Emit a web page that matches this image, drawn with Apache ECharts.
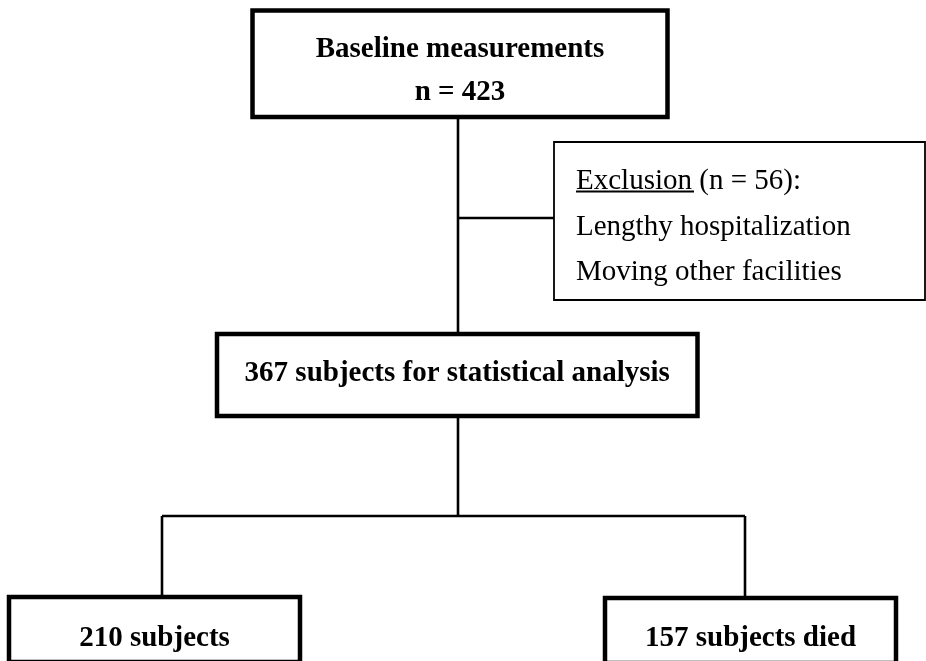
<!DOCTYPE html>
<html>
<head>
<meta charset="utf-8">
<script src="https://cdn.jsdelivr.net/npm/echarts@6/dist/echarts.min.js"></script>
<style>
html,body{margin:0;padding:0;background:#fff;}
#chart{width:926px;height:661px;}
</style>
</head>
<body>
<div id="chart"></div>
<script>
// ---- data (diagram units = page layout units of the flow chart) ----
const boxLabels = [
  ["Baseline measurements", "n = 423"],
  ["367 subjects for statistical analysis"],
  ["210 subjects"],
  ["157 subjects died"]
];
const boxExtents = [      // [x1, y1, x2, y2]
  [252.5, 10.5, 667.5, 117],
  [217, 334, 697.5, 416],
  [9, 597, 300, 662],
  [605, 598, 896, 663]
];
const boxTextRows = [     // row centres
  [49.5, 93],
  [374],
  [639],
  [639]
];
const exclusionLines = ["Exclusion (n = 56):", "Lengthy hospitalization", "Moving other facilities"];
const exclusionExtent = [554, 142, 925, 300];
const exclusionRows = [181, 227.5, 272];
const exclusionTextX = 576;
const underlineSpan = [576, 694, 191.5];
const connectors = [
  [[458, 117], [458, 334]],
  [[458, 218], [554, 218]],
  [[458, 416], [458, 516]],
  [[162, 516], [745, 516]],
  [[162, 516], [162, 597]],
  [[745, 516], [745, 598]]
];

const FONT = '"Liberation Serif", "Times New Roman", serif';
const chart = echarts.init(document.getElementById('chart'));

function boxRender(params, api) {
  const i = params.dataIndex;
  const e = boxExtents[i];
  const p1 = api.coord([e[0], e[1]]);
  const p2 = api.coord([e[2], e[3]]);
  const cx = (e[0] + e[2]) / 2;
  const children = [{
    type: 'rect',
    shape: {x: p1[0], y: p1[1], width: p2[0] - p1[0], height: p2[1] - p1[1]},
    style: {fill: '#fff', stroke: '#000', lineWidth: 4.5}
  }];
  boxLabels[i].forEach((t, k) => {
    const p = api.coord([cx, boxTextRows[i][k]]);
    children.push({
      type: 'text',
      x: p[0], y: p[1],
      style: {text: t, fill: '#000', font: 'bold 29px ' + FONT, align: 'center', verticalAlign: 'middle'}
    });
  });
  return {type: 'group', children};
}

function exclRender(params, api) {
  const e = exclusionExtent;
  const p1 = api.coord([e[0], e[1]]);
  const p2 = api.coord([e[2], e[3]]);
  const children = [{
    type: 'rect',
    shape: {x: p1[0], y: p1[1], width: p2[0] - p1[0], height: p2[1] - p1[1]},
    style: {fill: '#fff', stroke: '#000', lineWidth: 1.8}
  }];
  exclusionLines.forEach((t, k) => {
    const p = api.coord([exclusionTextX, exclusionRows[k]]);
    children.push({
      type: 'text', x: p[0], y: p[1],
      style: {text: t, fill: '#000', font: '29px ' + FONT, align: 'left', verticalAlign: 'middle'}
    });
  });
  const u1 = api.coord([underlineSpan[0], underlineSpan[2]]);
  const u2 = api.coord([underlineSpan[1], underlineSpan[2]]);
  children.push({type: 'line', shape: {x1: u1[0], y1: u1[1], x2: u2[0], y2: u2[1]}, style: {stroke: '#000', lineWidth: 2}});
  return {type: 'group', children};
}

function connRender(params, api) {
  const c = connectors[params.dataIndex];
  const a = api.coord(c[0]), b = api.coord(c[1]);
  return {type: 'line', shape: {x1: a[0], y1: a[1], x2: b[0], y2: b[1]}, style: {stroke: '#000', lineWidth: 2.6}};
}

chart.setOption({
  animation: false,
  backgroundColor: '#fff',
  grid: {left: 0, right: 0, top: 0, bottom: 0},
  xAxis: {type: 'value', min: 0, max: 926, show: false},
  yAxis: {type: 'value', min: 0, max: 661, inverse: true, show: false},
  series: [
    {type: 'custom', renderItem: connRender, data: connectors.map((c, i) => [c[0][0], c[0][1]]), z: 1, silent: true},
    {type: 'custom', renderItem: exclRender, data: [[exclusionExtent[0], exclusionExtent[1]]], z: 2, silent: true},
    {type: 'custom', renderItem: boxRender, data: boxExtents.map(e => [e[0], e[1]]), z: 3, silent: true}
  ]
});
</script>
</body>
</html>
